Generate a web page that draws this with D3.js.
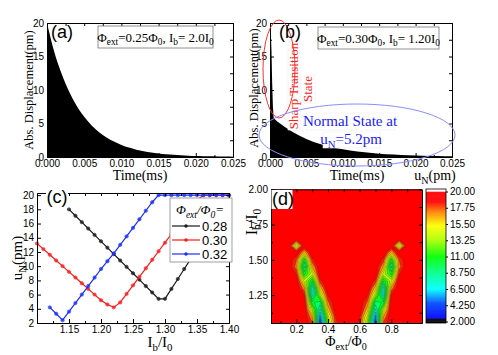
<!DOCTYPE html>
<html>
<head>
<meta charset="utf-8">
<script src="https://cdn.jsdelivr.net/npm/d3@7"></script>
<style>
body { margin: 0; background: #fff; }
svg { display: block; }
</style>
</head>
<body>
<script>
const W = 498, H = 355;
const fSerif = '"Liberation Serif", "Times New Roman", serif';
const fSans = '"Liberation Sans", Arial, sans-serif';

// (a) decay envelope, Phi_ext = 0.25, Ib = 2.0
const timeA = [0, 0.001, 0.002, 0.003, 0.004, 0.005, 0.006, 0.007, 0.008, 0.009, 0.010, 0.011, 0.012,
  0.013, 0.014, 0.015, 0.016, 0.017, 0.018, 0.019, 0.020, 0.021, 0.022, 0.023, 0.024, 0.025];
const dispA = [20, 15.6, 12.3, 9.7, 7.6, 6.0, 4.7, 3.7, 2.9, 2.3, 1.8, 1.4, 1.1,
  0.87, 0.68, 0.54, 0.42, 0.33, 0.26, 0.2, 0.16, 0.13, 0.1, 0.08, 0.06, 0.05];

// (b) sharp transition then normal state, Phi_ext = 0.30, Ib = 1.20
const timeB = [0, 0.0001, 0.0002, 0.0003, 0.0004, 0.0005, 0.0007, 0.001, 0.002, 0.003, 0.004, 0.005,
  0.006, 0.007, 0.008, 0.009, 0.010, 0.011, 0.012, 0.013, 0.014, 0.015, 0.016, 0.017, 0.018,
  0.019, 0.020, 0.021, 0.022, 0.023, 0.024, 0.025];
const dispB = [20, 19, 16, 11, 7.5, 5.9, 5.6, 5.3, 4.5, 3.8, 3.2, 2.7,
  2.25, 1.9, 1.6, 1.35, 1.15, 0.97, 0.82, 0.7, 0.59, 0.5, 0.42, 0.36, 0.3,
  0.26, 0.22, 0.19, 0.16, 0.14, 0.12, 0.1];

// (c) u_N versus Ib/I0
const ibC = [1.10, 1.11, 1.12, 1.13, 1.14, 1.15, 1.16, 1.17, 1.18, 1.19, 1.20, 1.21, 1.22, 1.23, 1.24,
  1.25, 1.26, 1.27, 1.28, 1.29, 1.30, 1.31, 1.32, 1.33, 1.34, 1.35, 1.36, 1.37, 1.38, 1.39, 1.40];
const u028 = [null, null, null, null, null, 18.0, 17.1, 16.2, 15.3, 14.4, 13.5, 12.6, 11.7, 10.8, 9.9,
  9.0, 8.1, 7.2, 6.3, 5.4, 5.4, 6.8, 8.2, 9.6, 11.0, 12.4, 13.8, 15.2, 16.6, 18.0, 19.4];
const u030 = [13.2, 12.4, 11.6, 10.8, 10.0, 9.2, 8.4, 7.6, 6.8, 6.0, 5.2, 4.6, 4.2, 4.9, 6.1,
  7.3, 8.5, 9.7, 10.9, 12.1, 13.3, 14.5, 15.7, 16.9, 18.1, 19.3, 20, 20, 20, 20, 20];
const u032 = [null, null, 4.2, 3.3, 2.4, 3.6, 4.8, 6.0, 7.2, 8.4, 9.6, 10.7, 11.8, 13.0, 14.2,
  15.4, 16.6, 17.8, 19.0, 20, 20, 20, 20, 20, 20, 20, 20, 20, 20, 20, 20];
const seriesNames = ['0.28', '0.30', '0.32'];
const seriesColors = ['#1a1a1a', '#ff1a1a', '#1a2eff'];

// (d) u_N map over Phi_ext/Phi0 and Ib/I0 (grid cells, 20 everywhere else)
const phiD = [0.05, 0.10, 0.15, 0.20, 0.25, 0.30, 0.35, 0.40, 0.45, 0.50,
  0.55, 0.60, 0.65, 0.70, 0.75, 0.80, 0.85, 0.90, 0.95];
const ibD = [1.05, 1.10, 1.15, 1.20, 1.25, 1.30, 1.35, 1.40, 1.45, 1.50,
  1.55, 1.60, 1.65, 1.70, 1.75, 1.80, 1.85, 1.90, 1.95, 2.00];
const uMax = 20;
const lowCells = [
  [0.20, 1.60, 13.5], [0.20, 1.50, 17.8], [0.20, 1.45, 17.2], [0.20, 1.40, 18.8],
  [0.25, 1.55, 16.0], [0.25, 1.50, 10.5], [0.25, 1.45, 8.5], [0.25, 1.40, 10.5], [0.25, 1.35, 14.0],
  [0.25, 1.30, 17.0], [0.25, 1.25, 19.0],
  [0.30, 1.50, 18.5], [0.30, 1.45, 16.5], [0.30, 1.40, 14.0], [0.30, 1.35, 10.0], [0.30, 1.30, 6.8],
  [0.30, 1.25, 7.0], [0.30, 1.20, 10.0], [0.30, 1.15, 13.5], [0.30, 1.10, 16.5], [0.30, 1.05, 18.0],
  [0.35, 1.35, 18.5], [0.35, 1.30, 16.0], [0.35, 1.25, 13.5], [0.35, 1.20, 9.5], [0.35, 1.15, 7.5],
  [0.35, 1.10, 5.0], [0.35, 1.05, 3.2],
  [0.40, 1.25, 19.0], [0.40, 1.20, 17.5], [0.40, 1.15, 16.0], [0.40, 1.10, 14.0], [0.40, 1.05, 12.5],
  [0.45, 1.10, 19.0], [0.45, 1.05, 18.5],
  [0.85, 1.60, 13.5], [0.85, 1.50, 17.8], [0.85, 1.45, 17.2], [0.85, 1.40, 18.8],
  [0.80, 1.55, 16.0], [0.80, 1.50, 10.5], [0.80, 1.45, 8.5], [0.80, 1.40, 10.5], [0.80, 1.35, 14.0],
  [0.80, 1.30, 17.0], [0.80, 1.25, 19.0],
  [0.75, 1.50, 18.5], [0.75, 1.45, 16.5], [0.75, 1.40, 14.0], [0.75, 1.35, 10.0], [0.75, 1.30, 7.0],
  [0.75, 1.25, 7.0], [0.75, 1.20, 10.0], [0.75, 1.15, 13.5], [0.75, 1.10, 16.5], [0.75, 1.05, 18.0],
  [0.70, 1.35, 18.5], [0.70, 1.30, 16.0], [0.70, 1.25, 13.5], [0.70, 1.20, 9.5], [0.70, 1.15, 7.5],
  [0.70, 1.10, 5.0], [0.70, 1.05, 3.5],
  [0.65, 1.25, 19.0], [0.65, 1.20, 17.5], [0.65, 1.15, 16.0], [0.65, 1.10, 14.0], [0.65, 1.05, 12.5],
  [0.60, 1.10, 19.0], [0.60, 1.05, 18.5]
];
const cbTicks = [2.000, 4.250, 6.500, 8.750, 11.00, 13.25, 15.50, 17.75, 20.00];
const cbLabels = ['2.000', '4.250', '6.500', '8.750', '11.00', '13.25', '15.50', '17.75', '20.00'];

const svg = d3.select('body').append('svg').attr('width', W).attr('height', H);

function rich(sel, parts, subSize, shift) {
  let down = false;
  parts.forEach(function(p) {
    const ts = sel.append('tspan').text(p[0]);
    if (p[1]) {
      ts.attr('font-size', subSize);
      if (!down) { ts.attr('dy', shift); down = true; }
    } else if (down) { ts.attr('dy', -shift); down = false; }
  });
  return sel;
}

function axes(xs, ys, o) {
  const [x0, x1] = xs.range(), [yb, yt] = ys.range();
  const g = svg.append('g');
  const put = function(axis, tx, ty) {
    const a = g.append('g').attr('transform', 'translate(' + tx + ',' + ty + ')').call(axis);
    a.select('.domain').attr('stroke', '#000');
    a.selectAll('.tick line').attr('stroke', '#000');
    a.selectAll('text').attr('font-family', fSans).attr('font-size', o.fs).attr('fill', '#000');
    return a;
  };
  const none = function() { return ''; };
  put(d3.axisBottom(xs).tickValues(o.xMajor).tickFormat(o.xFmt).tickSize(-4).tickSizeOuter(0).tickPadding(3), 0, yb);
  put(d3.axisBottom(xs).tickValues(o.xMinor).tickFormat(none).tickSize(-2).tickSizeOuter(0), 0, yb);
  put(d3.axisTop(xs).tickValues(o.xMajor.concat(o.xMinor)).tickFormat(none).tickSize(-3).tickSizeOuter(0), 0, yt);
  put(d3.axisLeft(ys).tickValues(o.yMajor).tickFormat(o.yFmt).tickSize(-4).tickSizeOuter(0).tickPadding(3), x0, 0);
  put(d3.axisLeft(ys).tickValues(o.yMinor).tickFormat(none).tickSize(-2).tickSizeOuter(0), x0, 0);
  put(d3.axisRight(ys).tickValues(o.yMajor.concat(o.yMinor)).tickFormat(none).tickSize(-3).tickSizeOuter(0), x1, 0);
  return g;
}

function label(x, y, txt, size, rot, fam) {
  const t = svg.append('text').attr('font-family', fam || fSerif).attr('font-size', size)
    .attr('text-anchor', 'middle').attr('fill', '#000');
  if (rot) t.attr('x', 0).attr('y', 0).attr('transform', 'translate(' + x + ',' + y + ') rotate(-90)');
  else t.attr('x', x).attr('y', y);
  if (typeof txt === 'string') t.text(txt); else rich(t, txt, size * 0.72, size * 0.25);
  return t;
}

// ---------- (a) ----------
const xA = d3.scaleLinear().domain([0, 0.025]).range([47, 233]);
const yA = d3.scaleLinear().domain([0, 20]).range([157, 23]);
svg.append('path').datum(timeA.map((t, i) => [t, dispA[i]]))
  .attr('d', d3.area().x(d => xA(d[0])).y0(yA(0)).y1(d => yA(d[1])).curve(d3.curveMonotoneX))
  .attr('fill', '#000');
const tA = [0, 0.005, 0.010, 0.015, 0.020, 0.025];
const tMinor = [0.0025, 0.0075, 0.0125, 0.0175, 0.0225];
axes(xA, yA, { xMajor: tA, xMinor: tMinor, xFmt: d3.format('.3f'),
  yMajor: [0, 5, 10, 15, 20], yMinor: [2.5, 7.5, 12.5, 17.5], yFmt: d3.format('d'), fs: 10 });
label(140, 180, 'Time(ms)', 14);
label(33, 90, 'Abs. Displacement(pm)', 12.5, true);
svg.append('rect').attr('x', 98).attr('y', 26).attr('width', 115).attr('height', 22)
  .attr('fill', '#fff').attr('stroke', '#777').attr('stroke-width', 0.8);
label(155.5, 42, [['Φ'], ['ext', 1], ['=0.25Φ'], ['0', 1], [', I'], ['b', 1], ['= 2.0I'], ['0', 1]], 13);
label(62, 38, '(a)', 18, false, fSans);

// ---------- (b) ----------
const xB = d3.scaleLinear().domain([0, 0.025]).range([270, 452]);
const yB = d3.scaleLinear().domain([0, 20]).range([157, 23]);
svg.append('path').datum(timeB.map((t, i) => [t, dispB[i]]))
  .attr('d', d3.area().x(d => xB(d[0])).y0(yB(0)).y1(d => yB(d[1])))
  .attr('fill', '#000');
axes(xB, yB, { xMajor: tA, xMinor: tMinor, xFmt: d3.format('.3f'),
  yMajor: [0, 5, 10, 15, 20], yMinor: [2.5, 7.5, 12.5, 17.5], yFmt: d3.format('d'), fs: 10 });
label(357, 180, 'Time(ms)', 14);
label(258, 88, 'Abs. Displacement(pm)', 12.5, true);
// annotation boxes
[[288, 42, 12, 88], [301, 75, 14, 28], [306, 113, 89, 17], [323, 132, 57, 16]].forEach(function(r) {
  svg.append('rect').attr('x', r[0]).attr('y', r[1]).attr('width', r[2]).attr('height', r[3])
    .attr('fill', '#fff').attr('stroke', '#eee').attr('stroke-width', 0.6);
});
label(298, 86, 'Sharp Transition', 13, true).attr('fill', '#ff1a1a');
label(312, 89, 'State', 13, true).attr('fill', '#ff1a1a');
label(350, 126, 'Normal State at', 15).attr('fill', '#1a1aff');
label(351, 144, [['u'], ['N', 1], ['=5.2pm']], 15).attr('fill', '#1a1aff');
svg.append('ellipse').attr('cx', 279).attr('cy', 69).attr('rx', 16).attr('ry', 49)
  .attr('fill', 'none').attr('stroke', '#ff3030').attr('stroke-width', 1);
svg.append('ellipse').attr('cx', 357).attr('cy', 135).attr('rx', 98).attr('ry', 31)
  .attr('fill', 'none').attr('stroke', '#8c8cff').attr('stroke-width', 1);
svg.append('rect').attr('x', 318).attr('y', 27).attr('width', 121).attr('height', 22)
  .attr('fill', '#fff').attr('stroke', '#777').attr('stroke-width', 0.8);
label(378.5, 43, [['Φ'], ['ext', 1], ['=0.30Φ'], ['0', 1], [', I'], ['b', 1], ['= 1.20I'], ['0', 1]], 13);
label(290, 38, '(b)', 18, false, fSans);
label(435, 180, [['u'], ['N', 1], ['(pm)']], 14);

// ---------- (c) ----------
const xC = d3.scaleLinear().domain([1.10, 1.40]).range([37, 229]);
const yC = d3.scaleLinear().domain([2, 20.3]).range([323, 193]);
const gC = svg.append('g');
[u028, u030, u032].forEach(function(s, k) {
  const pts = ibC.map((b, i) => [b, s[i]]).filter(d => d[1] !== null);
  gC.append('path').datum(pts)
    .attr('d', d3.line().x(d => xC(d[0])).y(d => yC(d[1])))
    .attr('fill', 'none').attr('stroke', seriesColors[k]).attr('stroke-width', 1.2);
  gC.selectAll(null).data(pts).enter().append('circle')
    .attr('cx', d => xC(d[0])).attr('cy', d => yC(d[1])).attr('r', 1.7)
    .attr('fill', seriesColors[k]).attr('fill-opacity', 0.75).attr('stroke', seriesColors[k]).attr('stroke-width', 0.5);
});
axes(xC, yC, { xMajor: [1.15, 1.20, 1.25, 1.30, 1.35, 1.40], xMinor: [1.125, 1.175, 1.225, 1.275, 1.325, 1.375],
  xFmt: d3.format('.2f'), yMajor: [2, 4, 6, 8, 10, 12, 14, 16, 18, 20], yMinor: [], yFmt: d3.format('d'), fs: 10 });
// legend
const lg = svg.append('g');
lg.append('rect').attr('x', 170).attr('y', 198).attr('width', 62).attr('height', 64)
  .attr('fill', '#fff').attr('stroke', '#888').attr('stroke-width', 0.8);
rich(lg.append('text').attr('x', 176).attr('y', 214).attr('font-family', fSerif)
  .attr('font-style', 'italic').attr('font-size', 13),
  [['Φ'], ['ext', 1], ['/Φ'], ['0', 1], ['=']], 9.5, 3.5);
seriesNames.forEach(function(n, k) {
  const yy = 226 + k * 14;
  lg.append('line').attr('x1', 172).attr('x2', 200).attr('y1', yy).attr('y2', yy)
    .attr('stroke', seriesColors[k]).attr('stroke-width', 1.2);
  lg.append('circle').attr('cx', 186).attr('cy', yy).attr('r', 1.7).attr('fill', seriesColors[k]);
  lg.append('text').attr('x', 202).attr('y', yy + 4.5).attr('font-family', fSans).attr('font-size', 13).text(n);
});
svg.append('rect').attr('x', 46).attr('y', 187).attr('width', 22).attr('height', 20).attr('fill', '#fff');
label(57, 203, '(c)', 18, false, fSans);
label(22, 258, [['u'], ['N', 1], ['(pm)']], 15, true);
label(160, 347, [['I'], ['b', 1], ['/I'], ['0', 1]], 15);

// ---------- (d) ----------
const xD = d3.scaleLinear().domain([0.04, 0.994]).range([271, 422]);
const yD = d3.scaleLinear().domain([1.052, 2.0]).range([323, 189.3]);
const color = d3.scaleLinear()
  .domain([2.45, 4.5, 6.5, 9.0, 11.0, 13.25, 15.3, 17.2, 18.6, 20])
  .range(['#0000ff', '#0048ff', '#00ffff', '#00ff80', '#00ff00', '#a8ff00', '#ffff00', '#ff8000', '#ff0000', '#ff0000'])
  .clamp(true);
const nx = phiD.length, ny = ibD.length;
const grid = new Array(nx * ny).fill(uMax);
lowCells.forEach(function(c) { grid[phiD.indexOf(c[0]) + ibD.indexOf(c[1]) * nx] = c[2]; });
const dPhi = phiD[1] - phiD[0], dIb = ibD[1] - ibD[0];
const proj = d3.geoTransform({ point: function(x, y) {
  this.stream.point(xD(phiD[0] + (x - 0.5) * dPhi), yD(ibD[0] + (y - 0.5) * dIb));
} });
const path = d3.geoPath(proj);
const levels = d3.range(16).map(i => 2 + 1.125 * i).slice(1).reverse();
svg.append('clipPath').attr('id', 'clipD').append('rect')
  .attr('x', 271).attr('y', 189.3).attr('width', 151).attr('height', 133.7);
const gD = svg.append('g').attr('clip-path', 'url(#clipD)');
gD.append('rect').attr('x', 271).attr('y', 189.3).attr('width', 151).attr('height', 133.7).attr('fill', color(uMax));
const cont = d3.contours().size([nx, ny]).thresholds(levels.map(t => -t))(grid.map(v => -v));
cont.forEach(function(c) {
  const t = -c.value;
  gD.append('path').attr('d', path(c)).attr('fill', color(t - 0.5625))
    .attr('stroke', '#3a3a3a').attr('stroke-width', 0.5).attr('stroke-opacity', 0.7);
});
axes(xD, yD, { xMajor: [0.2, 0.4, 0.6, 0.8], xMinor: [0.1, 0.3, 0.5, 0.7, 0.9], xFmt: d3.format('.1f'),
  yMajor: [1.25, 1.50, 1.75, 2.00], yMinor: [1.125, 1.375, 1.625, 1.875], yFmt: d3.format('.2f'), fs: 10 });
svg.append('rect').attr('x', 271.5).attr('y', 190).attr('width', 21).attr('height', 19).attr('fill', '#fff');
label(283, 205, '(d)', 18, false, fSans);
label(346, 346, [['Φ'], ['ext', 1], ['/Φ'], ['0', 1]], 14);
label(257, 222, [['I'], ['b', 1], ['/I'], ['0', 1]], 16, true);

// colorbar
const cb = d3.scaleLinear().domain([2, 20]).range([321.5, 191.5]);
const gCb = svg.append('g');
const cbVals = d3.range(2, 20, 0.05);
gCb.selectAll(null).data(cbVals).enter().append('rect')
  .attr('x', 426).attr('width', 20)
  .attr('y', d => cb(d + 0.05)).attr('height', d => cb(d) - cb(d + 0.05) + 0.3)
  .attr('fill', d => d < 2.45 ? '#000' : color(d));
gCb.append('rect').attr('x', 426).attr('y', cb(2)).attr('width', 20).attr('height', 323 - cb(2)).attr('fill', '#000');
gCb.append('rect').attr('x', 426).attr('y', 189).attr('width', 20).attr('height', cb(20) - 189).attr('fill', '#fff');
gCb.append('rect').attr('x', 426).attr('y', 189).attr('width', 20).attr('height', 134)
  .attr('fill', 'none').attr('stroke', '#000').attr('stroke-width', 0.8);
const cbAxis = gCb.append('g').attr('transform', 'translate(446,0)')
  .call(d3.axisRight(cb).tickValues(cbTicks).tickFormat((d, i) => cbLabels[i]).tickSize(2).tickSizeOuter(0).tickPadding(2));
cbAxis.select('.domain').remove();
cbAxis.selectAll('text').attr('font-family', fSans).attr('font-size', 10);
</script>
</body>
</html>
